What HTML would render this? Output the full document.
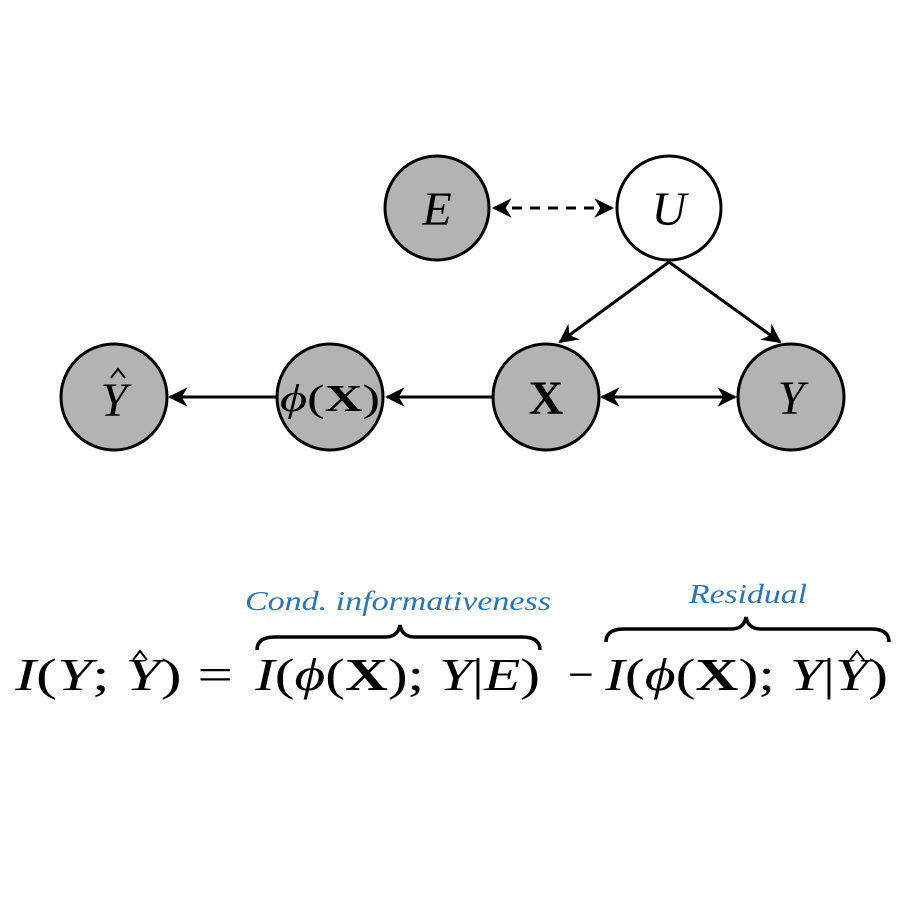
<!DOCTYPE html>
<html><head><style>body{margin:0;background:#fff} svg text{font-family:"Liberation Serif","Times New Roman",Times,"Nimbus Roman",serif;font-weight:normal}</style></head><body>
<svg width="904" height="904" viewBox="0 0 904 904" xmlns="http://www.w3.org/2000/svg">
<defs>
<marker id="a" viewBox="0 0 10 10" refX="9" refY="5" markerWidth="6.5" markerHeight="6.5" orient="auto-start-reverse"><path d="M0,0 L10,5 L0,10 L3,5 z" fill="#000"/></marker>
</defs>
<g stroke="#000" stroke-width="3">
<circle cx="437" cy="208" r="52" fill="#b3b3b3"/>
<circle cx="669" cy="208" r="52" fill="#fff"/>
<circle cx="546" cy="397" r="53" fill="#b3b3b3"/>
<circle cx="791" cy="397" r="53" fill="#b3b3b3"/>
<circle cx="330" cy="397" r="53" fill="#b3b3b3"/>
<circle cx="114" cy="397" r="53" fill="#b3b3b3"/>
<line x1="494" y1="208" x2="612" y2="208" stroke-dasharray="10,8" marker-start="url(#a)" marker-end="url(#a)"/>
<line x1="669" y1="262" x2="560" y2="342" marker-end="url(#a)"/>
<line x1="669" y1="262" x2="780" y2="342" marker-end="url(#a)"/>
<line x1="492" y1="397" x2="387" y2="397" marker-end="url(#a)"/>
<line x1="277" y1="397" x2="170" y2="397" marker-end="url(#a)"/>
<line x1="602" y1="397" x2="735" y2="397" marker-start="url(#a)" marker-end="url(#a)"/>
</g>
<g font-size="48" text-anchor="middle">
<text x="437" y="225" font-style="italic">E</text>
<text x="669" y="225" font-style="italic">U</text>
<text x="546" y="414" style="font-weight:bold">X</text>
<text x="791" y="414" font-style="italic">Y</text>
<text x="114" y="416" font-style="italic">Y</text>
<text x="330" y="411" font-size="38" textLength="100" lengthAdjust="spacingAndGlyphs"><tspan font-style="italic">ϕ</tspan>(<tspan style="font-weight:bold">X</tspan>)</text>
</g>
<path d="M111,378 L118,369 L125,378" fill="none" stroke="#000" stroke-width="2"/>
<g font-size="46">
<text x="15" y="690" textLength="218" lengthAdjust="spacingAndGlyphs"><tspan font-style="italic">I</tspan>(<tspan font-style="italic">Y</tspan>; <tspan font-style="italic">Y</tspan>) =</text>
<text x="255" y="690" textLength="285" lengthAdjust="spacingAndGlyphs"><tspan font-style="italic">I</tspan>(<tspan font-style="italic">ϕ</tspan>(<tspan style="font-weight:bold">X</tspan>); <tspan font-style="italic">Y</tspan>|<tspan font-style="italic">E</tspan>)</text>
<text x="568" y="690">−</text>
<text x="605" y="690" textLength="283" lengthAdjust="spacingAndGlyphs"><tspan font-style="italic">I</tspan>(<tspan font-style="italic">ϕ</tspan>(<tspan style="font-weight:bold">X</tspan>); <tspan font-style="italic">Y</tspan>|<tspan font-style="italic">Y</tspan>)</text>
</g>
<path d="M133,660 L140,651 L147,660" fill="none" stroke="#000" stroke-width="2"/>
<path d="M850,660 L857,651 L864,660" fill="none" stroke="#000" stroke-width="2"/>
<g fill="none" stroke="#000" stroke-width="3.5">
<path d="M257,650 Q257,637 275,637 L385,637 Q398,637 400,625 Q402,637 415,637 L522,637 Q540,637 540,650"/>
<path d="M606,642 Q606,629 624,629 L731,629 Q744,629 746,617 Q748,629 761,629 L871,629 Q889,629 889,642"/>
</g>
<g fill="#2a75b3" font-style="italic" font-size="27" text-anchor="middle">
<text x="398" y="610" textLength="306" lengthAdjust="spacingAndGlyphs">Cond. informativeness</text>
<text x="748" y="603" textLength="118" lengthAdjust="spacingAndGlyphs">Residual</text>
</g>
</svg>
</body></html>
